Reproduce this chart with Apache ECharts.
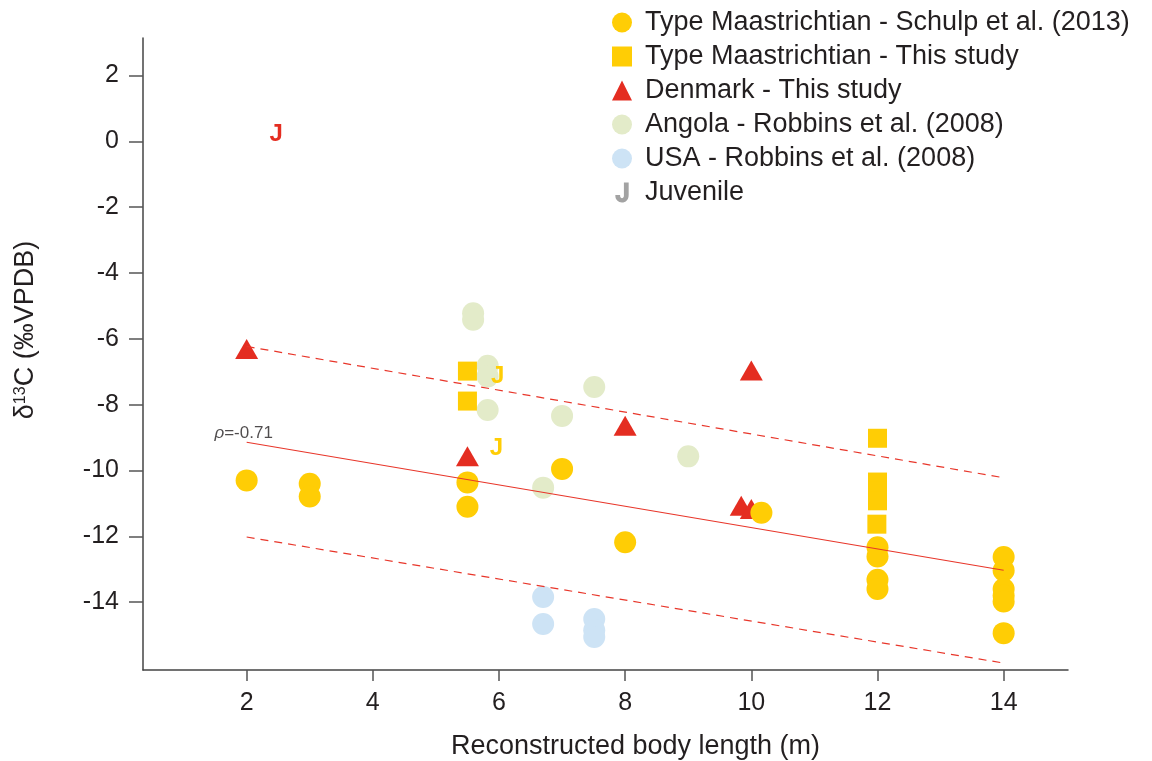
<!DOCTYPE html>
<html>
<head>
<meta charset="utf-8">
<script src="https://cdn.jsdelivr.net/npm/echarts@6/dist/echarts.min.js"></script>
<style>
  html, body { margin: 0; padding: 0; background: #fff; }
  #chart { width: 1152px; height: 761px; }
</style>
</head>
<body>
<div id="chart"></div>
<script>
// data: [body length (m), d13C]
const schulp = [
  [2, -10.30], [3, -10.40], [3, -10.79], [5.5, -10.36], [5.5, -11.10],
  [7, -9.95], [8, -12.18], [10.16, -11.28],
  [12, -12.33], [12, -12.61], [12, -13.32], [12, -13.60],
  [14, -12.63], [14, -13.04], [14, -13.60], [14, -13.80], [14, -13.98], [14, -14.94]
];
const maasThisStudy = [
  [5.5, -6.98], [5.5, -7.89],
  [12, -9.02], [12, -10.35], [12, -10.62], [12, -10.92], [11.99, -11.63]
];
const denmark = [
  [2, -6.31], [5.5, -9.57], [8, -8.64], [10, -6.96], [9.84, -11.07], [10, -11.17]
];
const angola = [
  [5.59, -5.22], [5.59, -5.42], [5.82, -6.82], [5.82, -7.14], [5.82, -8.16],
  [7.51, -7.46], [7, -8.34], [9, -9.57], [6.7, -10.52]
];
const usa = [
  [6.7, -13.84], [6.7, -14.66], [7.51, -14.51], [7.51, -14.85], [7.51, -15.06]
];
// juvenile markers: x, y, which group colour
const juvenile = [
  [2.47, 0.20, 'red'], [5.98, -7.14, 'yellow'], [5.96, -9.32, 'yellow']
];
const fitLine = [[2, -9.14], [14, -13.03]];
const upperLine = [[2, -6.23], [14, -10.22]];
const lowerLine = [[2, -12.02], [14, -15.85]];
const rhoText = 'ρ=-0.71';

const xTicks = [2, 4, 6, 8, 10, 12, 14];
const yTicks = [-14, -12, -10, -8, -6, -4, -2, 0, 2];

const names = [
  'Type Maastrichtian - Schulp et al. (2013)',
  'Type Maastrichtian - This study',
  'Denmark - This study',
  'Angola - Robbins et al. (2008)',
  'USA - Robbins et al. (2008)',
  'Juvenile'
];

const YELLOW = '#ffcd05';
const RED = '#e42d21';
const GREEN = '#e3ebc9';
const BLUE = '#cde3f5';
const TEXT = '#231f20';
const FONT = "'Liberation Sans', Arial, sans-serif";
const jIcon = 'path://M9,0h5v13c0,5-3,8-7,8s-7-3-7-7v-1h5v1c0,1.5,1,2.5,2,2.5s2-1,2-2.5z';

const chart = echarts.init(document.getElementById('chart'));

const refLine = (data, dashed) => ({
  type: 'line',
  data: data,
  symbol: 'none',
  silent: true,
  z: 5,
  lineStyle: { color: '#e8362a', width: 1.2, type: dashed ? [8, 6] : 'solid' }
});

const dots = (name, data, symbol, size, color) => ({
  name: name,
  type: 'scatter',
  data: data,
  symbol: symbol,
  symbolSize: size,
  itemStyle: { color: color, opacity: 1 }
});

const option = {
  animation: false,
  textStyle: { fontFamily: FONT, color: TEXT },
  grid: { left: 143, right: 84, top: 38, bottom: 91, containLabel: false, outerBoundsMode: 'none' },
  legend: {
    orient: 'vertical',
    left: 607,
    top: 4,
    itemWidth: 20,
    itemHeight: 20,
    itemGap: 7,
    textStyle: { fontSize: 27, color: TEXT, fontFamily: FONT, padding: [0, 0, 0, 8] },
    data: [
      { name: names[0], icon: 'circle' },
      { name: names[1], icon: 'rect' },
      { name: names[2], icon: 'triangle' },
      { name: names[3], icon: 'circle' },
      { name: names[4], icon: 'circle' },
      { name: names[5], icon: jIcon, itemStyle: { color: '#a3a3a3', opacity: 1 } }
    ]
  },
  xAxis: {
    type: 'value',
    min: 0.357,
    max: 15.02,
    name: 'Reconstructed body length (m)',
    nameLocation: 'middle',
    nameGap: 63,
    nameTextStyle: { fontSize: 27, color: TEXT, padding: [0, 0, 0, 60] },
    splitLine: { show: false },
    axisLine: { onZero: false, lineStyle: { color: '#444', width: 1.5 } },
    axisTick: { customValues: xTicks, length: 11, lineStyle: { color: '#555', width: 1.5 } },
    axisLabel: { customValues: xTicks, fontSize: 25, color: TEXT, margin: 21 }
  },
  yAxis: {
    type: 'value',
    min: -16.06,
    max: 3.14,
    name: '{a|δ}{s|13}{a|C (‰VPDB)}',
    nameLocation: 'middle',
    nameRotate: 90,
    nameGap: 104,
    nameTextStyle: {
      color: TEXT,
      padding: [0, 0, 0, 48],
      rich: {
        a: { fontSize: 27, color: TEXT, fontFamily: FONT },
        s: { fontSize: 16, color: TEXT, fontFamily: FONT, padding: [0, 0, 10, 0] }
      }
    },
    splitLine: { show: false },
    axisLine: { show: true, onZero: false, lineStyle: { color: '#444', width: 1.5 } },
    axisTick: { show: true, customValues: yTicks, length: 14, lineStyle: { color: '#555', width: 1.5 } },
    axisLabel: { customValues: yTicks, fontSize: 25, color: TEXT, margin: 24 }
  },
  series: [
    dots(names[3], angola, 'circle', 22, GREEN),
    dots(names[4], usa, 'circle', 22, BLUE),
    dots(names[2], denmark, 'triangle', [23, 20], RED),
    dots(names[1], maasThisStudy, 'rect', 19, YELLOW),
    dots(names[0], schulp, 'circle', 22, YELLOW),
    {
      name: names[5],
      type: 'scatter',
      symbolSize: 1,
      itemStyle: { color: 'rgba(0,0,0,0)', opacity: 1 },
      data: juvenile.map(d => ({
        value: [d[0], d[1]],
        label: { color: d[2] === 'red' ? RED : YELLOW }
      })),
      label: {
        show: true,
        position: 'inside',
        formatter: 'J',
        fontSize: 24,
        fontWeight: 'bold',
        fontFamily: FONT
      },
      z: 4
    },
    refLine(fitLine, false),
    refLine(upperLine, true),
    refLine(lowerLine, true),
    {
      type: 'scatter',
      silent: true,
      symbolSize: 0,
      data: [fitLine[0]],
      label: {
        show: true,
        position: 'top',
        distance: 0,
        offset: [-3, 0],
        formatter: '{i|ρ}{t|' + rhoText.slice(1) + '}',
        rich: {
          i: { fontSize: 17, fontStyle: 'italic', color: TEXT, fontFamily: FONT },
          t: { fontSize: 17, color: TEXT, fontFamily: FONT }
        }
      }
    }
  ]
};

chart.setOption(option);
</script>
</body>
</html>
